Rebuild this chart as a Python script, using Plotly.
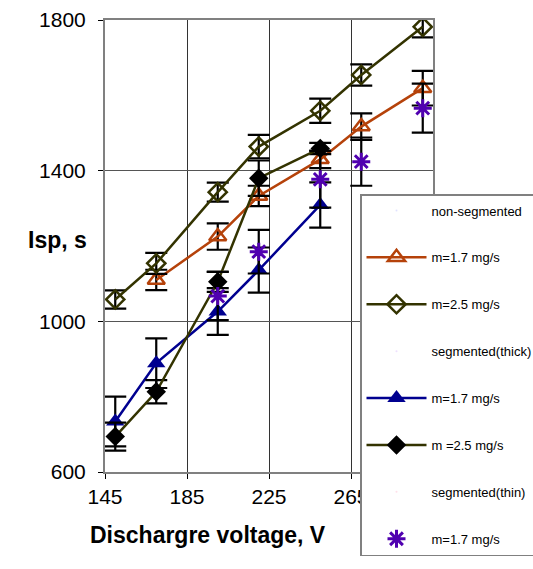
import plotly.graph_objects as go

# voltages (V)
v_ns17 = [170, 200, 220, 250, 270, 300]
v_ns25 = [150, 170, 200, 220, 250, 270, 300]
v_tk17 = [150, 170, 200, 220, 250]
v_tk25 = [150, 170, 200, 220, 250]
v_tn17 = [200, 220, 250, 270, 300]

# specific impulse (s) and error bars
isp_ns17 = [1110, 1225, 1333, 1430, 1517, 1619]
err_ns17 = [27, 35, 27, 23, 35, 46]
isp_ns25 = [1058, 1154, 1343, 1464, 1559, 1654, 1782]
err_ns25 = [24, 28, 25, 31, 32, 28, 28]
isp_tk17 = [734, 889, 1026, 1136, 1309]
err_tk17 = [66, 66, 62, 60, 60]
isp_tk25 = [694, 813, 1105, 1380, 1459]
err_tk25 = [37, 31, 27, 47, 15]
isp_tn17 = [1067, 1185, 1377, 1424, 1566]
err_tn17 = [64, 58, 75, 64, 65]

x_ticks = [145, 185, 225, 265, 305]
y_ticks = [600, 1000, 1400, 1800]

ORANGE = '#B5420A'
OLIVE = '#333300'
NAVY = '#000090'
PURPLE = '#5000B0'


def err(a):
    return dict(type='data', array=a, color='black', thickness=2.2, width=11)


def header(name, g):
    return go.Scatter(x=[None], y=[None], mode='markers', name=name, legendgroup=g,
                      marker=dict(opacity=0, size=1), hoverinfo='skip')


fig = go.Figure()

fig.add_trace(header('non-segmented', 'a'))
fig.add_trace(go.Scatter(x=v_ns17, y=isp_ns17, name='m=1.7 mg/s', legendgroup='b',
                         mode='lines+markers', error_y=err(err_ns17),
                         line=dict(color=ORANGE, width=2.5),
                         marker=dict(symbol='triangle-up-open', size=15, color=ORANGE,
                                     line=dict(width=2.5, color=ORANGE))))
fig.add_trace(go.Scatter(x=v_ns25, y=isp_ns25, name='m=2.5 mg/s', legendgroup='c',
                         mode='lines+markers', error_y=err(err_ns25),
                         line=dict(color=OLIVE, width=2.5),
                         marker=dict(symbol='diamond-open', size=14, color=OLIVE,
                                     line=dict(width=2.5, color=OLIVE))))
fig.add_trace(header('segmented(thick)', 'd'))
fig.add_trace(go.Scatter(x=v_tk17, y=isp_tk17, name='m=1.7 mg/s', legendgroup='e',
                         mode='lines+markers', error_y=err(err_tk17),
                         line=dict(color=NAVY, width=2.5),
                         marker=dict(symbol='triangle-up', size=16, color=NAVY)))
fig.add_trace(go.Scatter(x=v_tk25, y=isp_tk25, name='m =2.5 mg/s', legendgroup='f',
                         mode='lines+markers', error_y=err(err_tk25),
                         line=dict(color=OLIVE, width=2.5),
                         marker=dict(symbol='diamond', size=15, color='black')))
fig.add_trace(header('segmented(thin)', 'g'))
fig.add_trace(go.Scatter(x=v_tn17, y=isp_tn17, name='m=1.7 mg/s', legendgroup='h',
                         mode='markers', error_y=err(err_tn17),
                         marker=dict(symbol='asterisk-open', size=15, color=PURPLE,
                                     line=dict(width=3, color=PURPLE))))

pw, ph = 533 - 205, 569 - 117


def px_to_paper(x, y):
    return (x - 105) / pw, 1 - (y - 20) / ph


lx, ly = px_to_paper(360, 194)
ix, iy = px_to_paper(57, 240)
tx, ty = px_to_paper(208, 535)

fig.update_layout(
    width=533, height=569,
    margin=dict(l=105, r=100, t=20, b=97, autoexpand=False),
    paper_bgcolor='white', plot_bgcolor='white',
    font=dict(family='Liberation Sans, Arial', color='black'),
    showlegend=True,
    legend=dict(x=lx, y=ly, xanchor='left', yanchor='top',
                bgcolor='white', bordercolor='#808080', borderwidth=1.5,
                font=dict(size=13), tracegroupgap=27, itemwidth=60,
                traceorder='grouped'),
    xaxis=dict(range=[145, 305], tickvals=x_ticks, showgrid=True, gridcolor='#333333',
               gridwidth=1, showline=True, linecolor='#808080', linewidth=2, mirror=True,
               ticks='outside', ticklen=5, tickcolor='black', zeroline=False,
               tickfont=dict(size=21)),
    yaxis=dict(range=[600, 1800], tickvals=y_ticks, showgrid=True, gridcolor='#555555',
               gridwidth=1, showline=True, linecolor='#808080', linewidth=2, mirror=True,
               ticks='outside', ticklen=5, tickcolor='black', zeroline=False,
               tickfont=dict(size=21), ticklabelstandoff=8),
    annotations=[
        dict(text='<b>Isp, s</b>', x=ix, y=iy, xref='paper', yref='paper',
             xanchor='center', yanchor='middle', showarrow=False, font=dict(size=23)),
        dict(text='<b>Dischargre voltage, V</b>', x=tx, y=ty, xref='paper', yref='paper',
             xanchor='center', yanchor='middle', showarrow=False, font=dict(size=23)),
    ],
)

fig.write_html("out.html", config={'displayModeBar': False},
               post_script="document.body.style.margin='0';")
